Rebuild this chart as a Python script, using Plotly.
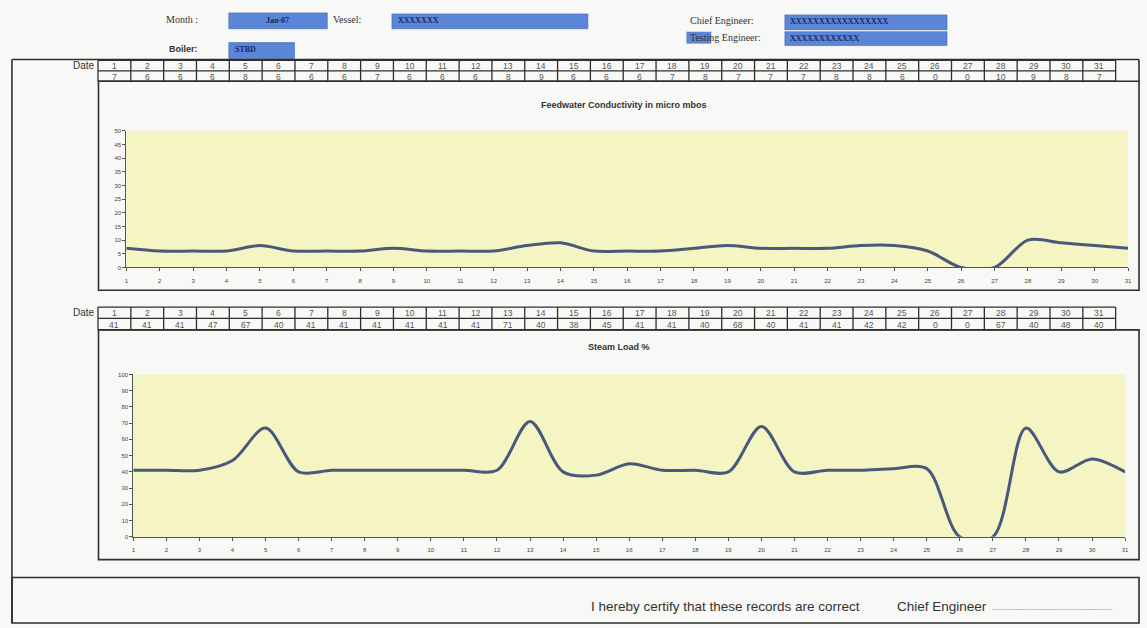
import plotly.graph_objects as go

# ---- data -------------------------------------------------------------
days = list(range(1, 32))
conductivity = [7, 6, 6, 6, 8, 6, 6, 6, 7, 6, 6, 6, 8, 9, 6, 6,
                6, 7, 8, 7, 7, 7, 8, 8, 6, 0, 0, 10, 9, 8, 7]
steam_load = [41, 41, 41, 47, 67, 40, 41, 41, 41, 41, 41, 41, 71, 40, 38, 45,
              41, 41, 40, 68, 40, 41, 41, 42, 42, 0, 0, 67, 40, 48, 40]

month_text = "Jan-07"
vessel_text = "XXXXXXX"
boiler_text = "STBD"
chief_text = "XXXXXXXXXXXXXXXXX"
testing_text = "XXXXXXXXXXXX"

title_1 = "Feedwater Conductivity in micro mbos"
title_2 = "Steam Load %"
footer_text = "I hereby certify that these records are correct"

# ---- page geometry (pixels) --------------------------------------------
W, H = 1147, 628


def px(x):
    return x / W


def py(y):
    return 1 - y / H


LINE = "#2e2e2e"
BLUE = "#5b86d8"
TEXT_NAVY = "#1c2760"
CURVE = "#4a5879"
YELLOW = "#f5f5c4"

shapes = []
ann = []


def line(x0, y0, x1, y1, w=1.3, c=LINE):
    shapes.append(dict(type="line", xref="paper", yref="paper",
                       x0=px(x0), y0=py(y0), x1=px(x1), y1=py(y1),
                       line=dict(color=c, width=w)))


def rect(x0, y0, x1, y1, fill=None, w=1.3, c=LINE):
    shapes.append(dict(type="rect", xref="paper", yref="paper",
                       x0=px(x0), y0=py(y0), x1=px(x1), y1=py(y1),
                       fillcolor=fill if fill else "rgba(0,0,0,0)",
                       line=dict(color=c, width=w), layer="below"))


def text(x, y, s, size=9, color="#333", family="Liberation Sans",
         xanchor="center", bold=False):
    if bold:
        s = "<b>" + s + "</b>"
    ann.append(dict(x=px(x), y=py(y), xref="paper", yref="paper", text=s,
                    showarrow=False, xanchor=xanchor, yanchor="middle",
                    font=dict(size=size, color=color, family=family)))


# ---- header fields -----------------------------------------------------
text(163, 17, "Month :", 10, "#333", "Liberation Serif", "left")
rect(228, 10, 327, 26, BLUE, 0.6, "#3e66b8")
text(277, 18, month_text, 8, TEXT_NAVY, "Liberation Serif", bold=True)
text(331, 17, "Vessel:", 10, "#333", "Liberation Serif", "left")
rect(392, 11, 589, 26, BLUE, 0.6, "#3e66b8")
text(396, 18, vessel_text, 8, TEXT_NAVY, "Liberation Serif", "left", True)
text(166, 46, "Boiler:", 9, "#333", "Liberation Sans", "left", True)
rect(228, 40, 294, 56, BLUE, 0.6, "#3e66b8")
text(232, 47, boiler_text, 8, TEXT_NAVY, "Liberation Serif", "left", True)

text(690, 18, "Chief Engineer:", 10, "#333", "Liberation Serif", "left")
rect(787, 12, 950, 27, BLUE, 0.6, "#3e66b8")
text(790, 19, chief_text, 8, TEXT_NAVY, "Liberation Serif", "left", True)
rect(688, 29, 713, 41, BLUE, 0, BLUE)
text(690, 35, "Testing Engineer:", 10, "#333", "Liberation Serif", "left")
rect(787, 29, 950, 43, BLUE, 0.6, "#3e66b8")
text(790, 36, testing_text, 8, TEXT_NAVY, "Liberation Serif", "left", True)

# ---- outer frame -------------------------------------------------------
line(10, 57, 1143, 57, 1.6)
line(10, 57, 10, 626, 1.6)
line(1143, 57, 1143, 79, 1.6)

# ---- date tables -------------------------------------------------------
CELL0, CELLW = 96.5, 33.0


def date_table(top, mid, bottom, values):
    x_end = CELL0 + CELLW * len(days)
    line(CELL0, top, x_end, top)
    line(CELL0, mid, x_end, mid)
    line(CELL0, bottom, x_end, bottom)
    for i in range(len(days) + 1):
        xx = CELL0 + CELLW * i
        line(xx, top, xx, bottom)
    text(95, (top + mid) / 2, "Date", 10, "#333", xanchor="right")
    for i, (d, v) in enumerate(zip(days, values)):
        cx = CELL0 + CELLW * (i + 0.5)
        text(cx, (top + mid) / 2 + 0.5, str(d), 8.5, "#555")
        text(cx, (mid + bottom) / 2 + 0.5, str(v), 8.5, "#555")


date_table(58, 68.5, 79, conductivity)
date_table(307, 318.5, 330, steam_load)

# ---- chart panels ------------------------------------------------------
rect(97, 79, 1143, 290, None, 1.6)
rect(97, 330, 1143, 562, None, 1.6)
text(625, 103, title_1, 9, "#333", bold=True)
text(620, 347, title_2, 9, "#333", bold=True)

# ---- footer ------------------------------------------------------------
rect(10, 580, 1143, 626, None, 1.6)
text(590, 609, footer_text, 13.5, "#333", xanchor="left")
text(898, 609, "Chief Engineer", 13.5, "#333", xanchor="left")
text(993, 610, "." * 62, 7, "#444", xanchor="left")

# ---- curves ------------------------------------------------------------
fig = go.Figure()
fig.add_trace(go.Scatter(x=days, y=conductivity, mode="lines",
                         line=dict(color=CURVE, width=3, shape="spline",
                                   smoothing=0.9),
                         xaxis="x", yaxis="y", hoverinfo="x+y"))
fig.add_trace(go.Scatter(x=days, y=steam_load, mode="lines",
                         line=dict(color=CURVE, width=3, shape="spline",
                                   smoothing=0.9),
                         xaxis="x2", yaxis="y2", hoverinfo="x+y"))

axis_common = dict(showgrid=False, zeroline=False, showline=True,
                   linecolor="#555", linewidth=1, ticks="outside",
                   ticklen=3, tickcolor="#555",
                   tickfont=dict(size=6, color="#444",
                                 family="Liberation Sans"),
                   fixedrange=True)

fig.update_layout(
    width=W, height=H,
    margin=dict(l=0, r=0, t=0, b=0),
    paper_bgcolor="#f8f8f6",
    plot_bgcolor=YELLOW,
    showlegend=False,
    shapes=shapes,
    annotations=ann,
    xaxis=dict(domain=[px(125), px(1132)], range=[1, 31],
               tickvals=days, anchor="y", ticklabelstandoff=4, **axis_common),
    yaxis=dict(domain=[py(267), py(129)], range=[0, 50], dtick=5,
               anchor="x", **axis_common),
    xaxis2=dict(domain=[px(132), px(1129)], range=[1, 31],
                tickvals=days, anchor="y2", ticklabelstandoff=4, **axis_common),
    yaxis2=dict(domain=[py(539), py(375)], range=[0, 100], dtick=10,
                anchor="x2", **axis_common),
)

fig.write_html("out.html")
